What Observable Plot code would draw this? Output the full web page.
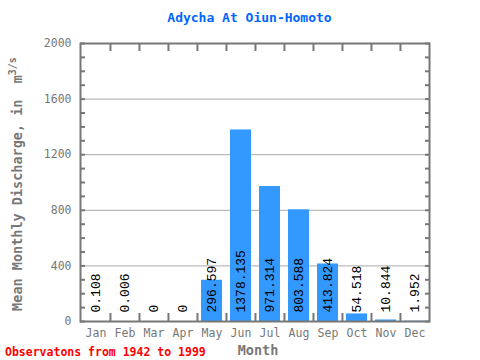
<!DOCTYPE html>
<html><head><meta charset="utf-8">
<script src="https://cdn.jsdelivr.net/npm/d3@7"></script>
<script src="https://cdn.jsdelivr.net/npm/@observablehq/plot@0.6"></script>
<style>body{margin:0;background:#fff}svg{display:block}</style>
</head><body><div id="chart"></div>
<script>
const months = ["Jan","Feb","Mar","Apr","May","Jun","Jul","Aug","Sep","Oct","Nov","Dec"];
const values = [0.108,0.006,0,0,296.597,1378.135,971.314,803.588,413.824,54.518,10.844,1.952];
const labels = ["0.108","0.006","0","0","296.597","1378.135","971.314","803.588","413.824","54.518","10.844","1.952"];
const yTicks = [0,400,800,1200,1600,2000];
const title = "Adycha At Oiun-Homoto";
const footer = "Observatons from 1942 to 1999";

const data = months.map((m,i)=>({month:m, value:values[i], label:labels[i]}));
const W=480,H=360,mL=80,mR=51,mT=43,mB=39;
const bw=(W-mL-mR)/12;
const k=2000/(H-mT-mB);
const mono="'DejaVu Sans Mono', 'Liberation Mono', monospace";

const plot = Plot.plot({
  width:W, height:H, marginLeft:mL, marginRight:mR, marginTop:mT, marginBottom:mB,
  style:{fontFamily:mono, background:"#fff"},
  x:{domain:months, padding:0, label:null},
  y:{domain:[0,2000], label:null},
  marks:[
    Plot.gridY([400,800,1200,1600], {stroke:"#aaa", strokeOpacity:1}),
    Plot.barY(data, {x:"month", y:"value", fill:"#3399ff", insetLeft:4, insetRight:4}),
    Plot.text(data, {x:"month", y:0, text:"label", rotate:-90, textAnchor:"start", lineAnchor:"middle", dy:-9, fontSize:13, fill:"#000", fontFamily:"'Liberation Mono', monospace"}),
    Plot.ruleX(months.slice(1), {x:d=>d, dx:-bw/2, y1:2000, y2:2000-8*k, stroke:"#777", strokeWidth:2}),
    Plot.ruleX(months.slice(1), {x:d=>d, dx:-bw/2, y1:0, y2:8*k, stroke:"#777", strokeWidth:2}),
    Plot.axisY({anchor:"left", ticks:d3.range(0,2001,100), tickSize:-5, tickFormat:()=>"", stroke:"#777", strokeWidth:2, label:null}),
    Plot.axisY({anchor:"right", ticks:d3.range(0,2001,100), tickSize:-5, tickFormat:()=>"", stroke:"#777", strokeWidth:2, label:null}),
    Plot.axisY({anchor:"left", ticks:yTicks, tickSize:0, tickPadding:9, fill:"#777", fontSize:11.5, label:null, tickFormat:d=>String(d)}),
    Plot.axisX({anchor:"bottom", tickSize:0, tickPadding:7, fill:"#777", fontSize:11.5, label:null}),
    Plot.frame({stroke:"#777", strokeWidth:2})
  ]
});
document.getElementById("chart").appendChild(plot);
const svg = d3.select(plot);
svg.append("text").attr("x",249.5).attr("y",22).attr("text-anchor","middle")
  .attr("font-family",mono).attr("font-weight","bold").attr("font-size",13).attr("fill","#0066ff").text(title);
svg.append("text").attr("x",258).attr("y",355).attr("text-anchor","middle")
  .attr("font-family",mono).attr("font-weight","bold").attr("font-size",13.5).attr("fill","#777").text("Month");
svg.append("text").attr("x",5).attr("y",356).attr("text-anchor","start")
  .attr("font-family",mono).attr("font-weight","bold").attr("font-size",11.5).attr("fill","#ff0000").text(footer);
const yl = svg.append("text").attr("transform","translate(22,184) rotate(-90)").attr("text-anchor","middle")
  .attr("font-family",mono).attr("font-weight","bold").attr("font-size",13.5).attr("fill","#777");
yl.append("tspan").text("Mean Monthly Discharge, in  m");
yl.append("tspan").attr("dy",-6).attr("font-size",10).text("3/s");
</script></body></html>
